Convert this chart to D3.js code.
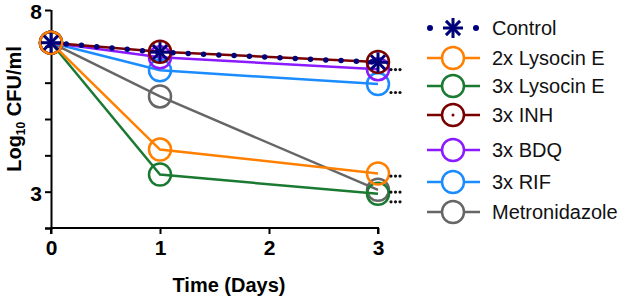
<!DOCTYPE html>
<html>
<head>
<meta charset="utf-8">
<script src="https://cdn.jsdelivr.net/npm/d3@7"></script>
<style>
  body { margin: 0; background: #fff; }
  svg { display: block; font-family: "Liberation Sans", Arial, sans-serif; }
</style>
</head>
<body>
<svg id="chart" width="623" height="302"></svg>
<script>
const days = [0, 1, 3];
const seriesNames = ["Control", "2x Lysocin E", "3x Lysocin E", "3x INH", "3x BDQ", "3x RIF", "Metronidazole"];
const seriesColors = ["#00007a", "#ff8000", "#1b7a32", "#7a0000", "#8a1aff", "#1a8cff", "#666666"];
const controlVals = [7.1, 6.84, 6.56];
const lys2Vals = [7.1, 4.16, 3.5];
const lys3Vals = [7.1, 3.47, 2.94];
const inhVals = [7.1, 6.85, 6.57];
const bdqVals = [7.1, 6.7, 6.37];
const rifVals = [7.1, 6.34, 5.96];
const metroVals = [7.1, 5.62, 3.05];
const xTicks = [0, 1, 2, 3];
const yTickLabels = [3, 8];
const sigMarks = [6.36, 5.73, 3.43, 2.99, 2.72]; // "***" positions at day 3

const INK = "#000";
const svg = d3.select("#chart");

const x = d3.scaleLinear().domain([0, 3]).range([51, 378]);
const y = d3.scaleLinear().domain([2, 8]).range([228, 10]);

// Axes
const yAxis = svg.append("g")
  .attr("transform", "translate(51,0)")
  .call(d3.axisLeft(y).tickValues(d3.range(2, 9)).tickSize(6)
    .tickFormat(d => yTickLabels.includes(d) ? d : ""));
const xAxis = svg.append("g")
  .attr("transform", "translate(0,228)")
  .call(d3.axisBottom(x).tickValues(xTicks).tickSize(6).tickFormat(d3.format("d")));

[xAxis, yAxis].forEach(a => {
  a.select(".domain").attr("stroke", INK).attr("stroke-width", 2);
  a.selectAll(".tick line").attr("stroke", INK).attr("stroke-width", 2);
  a.selectAll(".tick text").attr("fill", INK).attr("font-size", 21)
    .attr("font-weight", "bold").attr("font-family", "Liberation Sans, Arial, sans-serif");
});
yAxis.select(".domain").attr("d", "M-6,228.5H0.5V10");
xAxis.select(".domain").attr("d", "M51,6V0H378V6");
xAxis.selectAll(".tick text").attr("dy", "0.95em").attr("y", 7);
yAxis.selectAll(".tick text").attr("x", -9).attr("dy", "0.42em");

// Axis titles
svg.append("text")
  .attr("x", 229).attr("y", 292)
  .attr("text-anchor", "middle")
  .attr("font-size", 20).attr("font-weight", "bold")
  .text("Time (Days)");

const yl = svg.append("text")
  .attr("transform", "translate(21,109) rotate(-90)")
  .attr("text-anchor", "middle")
  .attr("font-size", 20).attr("font-weight", "bold");
yl.append("tspan").text("Log");
yl.append("tspan").attr("font-size", 12).attr("dy", 4).text("10");
yl.append("tspan").attr("dy", -4).text(" CFU/ml");

// Series
const allVals = [controlVals, lys2Vals, lys3Vals, inhVals, bdqVals, rifVals, metroVals];
const series = seriesNames.map((name, i) => ({
  name, color: seriesColors[i],
  points: days.map((d, j) => ({ day: d, v: allVals[i][j] }))
}));

const line = d3.line().x(d => x(d.day)).y(d => y(d.v));
const R = 11;

// order so orange ends up on top at day 0, as in the figure
const drawOrder = [6, 5, 4, 2, 3, 1];
drawOrder.forEach(i => {
  const s = series[i];
  const g = svg.append("g");
  g.append("path").attr("d", line(s.points))
    .attr("fill", "none").attr("stroke", s.color).attr("stroke-width", 2.5);
  g.selectAll("circle").data(s.points).join("circle")
    .attr("cx", d => x(d.day)).attr("cy", d => y(d.v)).attr("r", R)
    .attr("fill", "none").attr("stroke", s.color).attr("stroke-width", 2.5);
  if (s.name === "3x INH") {
    g.selectAll("circle.dot").data(s.points).join("circle").attr("class", "dot")
      .attr("cx", d => x(d.day)).attr("cy", d => y(d.v)).attr("r", 1.5).attr("fill", s.color);
  }
});

// Control: dotted line + asterisk markers
function asterisk(g, cx, cy, r, color, sw) {
  for (let k = 0; k < 4; k++) {
    const a = k * Math.PI / 4;
    g.append("line")
      .attr("x1", cx - r * Math.cos(a)).attr("y1", cy - r * Math.sin(a))
      .attr("x2", cx + r * Math.cos(a)).attr("y2", cy + r * Math.sin(a))
      .attr("stroke", color).attr("stroke-width", sw);
  }
}
const ctrl = series[0];
const cg = svg.append("g");
cg.append("path").attr("d", line(ctrl.points))
  .attr("fill", "none").attr("stroke", ctrl.color).attr("stroke-width", 5.5)
  .attr("stroke-linecap", "round").attr("stroke-dasharray", "0,15.3");
ctrl.points.forEach(p => asterisk(cg, x(p.day), y(p.v), 10, ctrl.color, 3));

// significance marks: three small dots each
const sg = svg.append("g");
sigMarks.forEach(v => {
  [0, 4.5, 9].forEach(dx => {
    sg.append("circle").attr("cx", x(3) + 13 + dx).attr("cy", y(v)).attr("r", 1.6).attr("fill", "#111");
  });
});

// Legend
const legendY = [28, 58, 86, 115, 150, 182, 212];
const lg = svg.append("g");
series.forEach((s, i) => {
  const ly = legendY[i];
  const row = lg.append("g");
  if (s.name === "Control") {
    [430, 476].forEach(cx => row.append("circle").attr("cx", cx).attr("cy", ly).attr("r", 3).attr("fill", s.color));
    asterisk(row, 453, ly, 10, s.color, 3);
  } else {
    row.append("line").attr("x1", 427).attr("x2", 480).attr("y1", ly).attr("y2", ly)
      .attr("stroke", s.color).attr("stroke-width", 2.5);
    row.append("circle").attr("cx", 453).attr("cy", ly).attr("r", R)
      .attr("fill", "#fff").attr("stroke", s.color).attr("stroke-width", 2.5);
    if (s.name === "3x INH") {
      row.append("circle").attr("cx", 453).attr("cy", ly).attr("r", 1.5).attr("fill", s.color);
    }
  }
  row.append("text").attr("x", 492).attr("y", ly).attr("dy", "0.35em")
    .attr("font-size", 20).attr("fill", "#111").text(s.name);
});
</script>
</body>
</html>
